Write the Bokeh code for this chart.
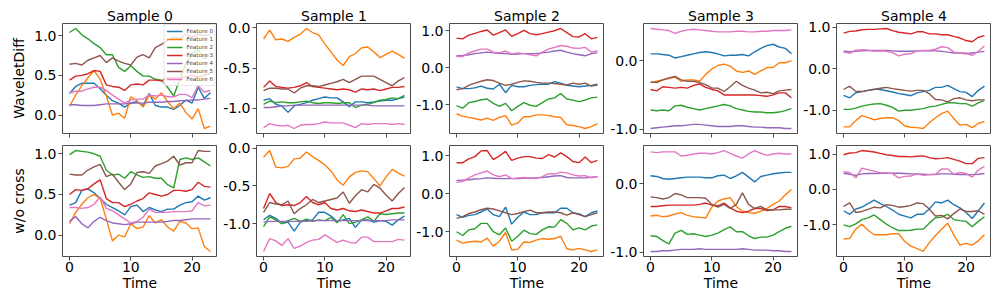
from bokeh.plotting import figure
from bokeh.layouts import row, column
from bokeh.models import Range1d, FixedTicker, PrintfTickFormatter, CustomLabelingPolicy
from bokeh.embed import file_html
from bokeh.resources import INLINE

time = list(range(24))
features = ["Feature 0", "Feature 1", "Feature 2", "Feature 3", "Feature 4", "Feature 5", "Feature 6"]
colors = ["#1f77b4", "#ff7f0e", "#2ca02c", "#d62728", "#9467bd", "#8c564b", "#e377c2"]
samples = ["Sample 0", "Sample 1", "Sample 2", "Sample 3", "Sample 4"]
row_labels = ["WaveletDiff", "w/o cross"]
x_ticks = [0, 10, 20]
y_ticks = [[0.0, 0.5, 1.0], [-1.0, -0.5, 0.0], [-1.0, 0.0, 1.0], [-1.0, 0.0], [-1.0, 0.0, 1.0]]

# WaveletDiff (row 1)
wd_s0 = [
    [0.27,0.36,0.40,0.40,0.40,0.33,0.25,0.18,0.15,0.10,0.15,0.17,0.12,0.27,0.12,0.10,0.10,0.07,0.12,0.19,0.15,0.35,0.21,0.28],
    [0.11,0.25,0.37,0.47,0.56,0.45,0.24,0.00,0.02,-0.04,0.23,0.18,0.10,0.25,0.20,0.28,0.17,0.08,0.15,0.03,-0.05,0.08,-0.17,-0.14],
    [1.04,1.09,1.01,0.96,0.90,0.85,0.76,0.76,0.60,0.55,0.62,0.55,0.49,0.49,0.45,0.44,0.35,0.24,0.45,0.65,0.78,0.82,0.70,0.78],
    [0.44,0.49,0.50,0.52,0.56,0.55,0.38,0.36,0.35,0.31,0.38,0.39,0.38,0.44,0.44,0.43,0.47,0.47,0.47,0.48,0.50,0.48,0.50,0.52],
    [0.13,0.13,0.12,0.12,0.12,0.13,0.14,0.14,0.14,0.14,0.15,0.15,0.15,0.16,0.16,0.16,0.17,0.17,0.18,0.18,0.19,0.19,0.20,0.21],
    [0.64,0.65,0.63,0.69,0.72,0.75,0.66,0.72,0.68,0.65,0.63,0.73,0.76,0.72,0.85,0.89,0.94,0.98,0.96,1.02,0.98,1.02,1.00,1.01],
    [0.28,0.30,0.30,0.33,0.35,0.35,0.31,0.25,0.20,0.15,0.19,0.20,0.20,0.25,0.24,0.25,0.23,0.23,0.26,0.26,0.22,0.37,0.29,0.31],
]
wd_s1 = [
    [-0.90,-0.88,-0.95,-0.97,-1.05,-0.97,-0.95,-0.93,-0.90,-0.88,-0.86,-0.87,-0.87,-0.92,-0.98,-0.92,-0.92,-0.93,-0.92,-0.91,-0.90,-0.90,-0.88,-0.86],
    [-0.14,-0.03,-0.15,-0.14,-0.17,-0.12,-0.08,-0.01,-0.06,-0.09,-0.20,-0.30,-0.40,-0.47,-0.36,-0.32,-0.25,-0.24,-0.30,-0.37,-0.33,-0.29,-0.33,-0.38],
    [-0.95,-0.91,-0.93,-0.92,-0.93,-0.93,-0.92,-0.91,-0.93,-0.94,-0.93,-0.93,-0.94,-0.93,-0.93,-0.99,-0.96,-0.95,-0.93,-0.90,-0.89,-0.87,-0.88,-0.84],
    [-0.74,-0.66,-0.73,-0.74,-0.75,-0.74,-0.72,-0.68,-0.73,-0.74,-0.75,-0.76,-0.77,-0.76,-0.77,-0.80,-0.76,-0.77,-0.76,-0.78,-0.76,-0.74,-0.74,-0.73],
    [-0.99,-0.99,-0.98,-0.97,-0.97,-0.96,-0.96,-0.96,-0.96,-0.96,-0.96,-0.96,-0.96,-0.96,-0.96,-0.96,-0.96,-0.96,-0.97,-0.97,-0.97,-0.97,-0.97,-0.97],
    [-0.78,-0.75,-0.75,-0.76,-0.76,-0.81,-0.75,-0.72,-0.72,-0.73,-0.71,-0.69,-0.67,-0.64,-0.68,-0.64,-0.60,-0.60,-0.60,-0.64,-0.68,-0.72,-0.66,-0.62],
    [-1.24,-1.19,-1.21,-1.22,-1.21,-1.25,-1.21,-1.20,-1.20,-1.19,-1.17,-1.18,-1.18,-1.18,-1.21,-1.24,-1.19,-1.20,-1.19,-1.19,-1.19,-1.20,-1.19,-1.20],
]
wd_s2 = [
    [-0.52,-0.57,-0.57,-0.55,-0.50,-0.56,-0.58,-0.45,-0.68,-0.48,-0.52,-0.52,-0.48,-0.46,-0.45,-0.45,-0.38,-0.42,-0.48,-0.50,-0.52,-0.50,-0.48,-0.45],
    [-1.25,-1.32,-1.35,-1.38,-1.42,-1.37,-1.43,-1.35,-1.30,-1.56,-1.50,-1.33,-1.33,-1.28,-1.28,-1.30,-1.33,-1.35,-1.55,-1.57,-1.60,-1.65,-1.60,-1.52],
    [-1.03,-1.10,-0.95,-0.92,-0.87,-0.85,-0.97,-1.05,-0.97,-1.17,-1.05,-0.95,-1.02,-1.05,-0.95,-0.85,-0.82,-0.70,-0.85,-0.88,-0.92,-0.88,-0.82,-0.80],
    [0.80,0.78,0.88,0.93,0.98,1.02,0.88,0.95,1.02,0.85,0.92,1.01,0.92,0.89,0.92,0.96,1.00,1.06,0.95,0.84,0.83,0.92,0.78,0.82],
    [0.32,0.33,0.35,0.38,0.40,0.42,0.40,0.39,0.38,0.36,0.37,0.38,0.38,0.38,0.40,0.42,0.45,0.47,0.42,0.38,0.35,0.32,0.38,0.40],
    [-0.60,-0.57,-0.48,-0.42,-0.37,-0.33,-0.35,-0.42,-0.48,-0.45,-0.40,-0.36,-0.37,-0.40,-0.42,-0.42,-0.43,-0.45,-0.47,-0.42,-0.45,-0.42,-0.50,-0.47],
    [0.30,0.30,0.40,0.45,0.50,0.50,0.42,0.40,0.45,0.37,0.40,0.38,0.35,0.32,0.42,0.50,0.55,0.60,0.58,0.53,0.52,0.55,0.42,0.45],
]
wd_s3 = [
    [0.10,0.10,0.09,0.08,0.04,0.06,0.08,0.10,0.12,0.13,0.12,0.10,0.07,0.08,0.08,0.09,0.07,0.13,0.18,0.22,0.24,0.20,0.18,0.10],
    [-0.32,-0.30,-0.28,-0.26,-0.24,-0.30,-0.28,-0.28,-0.30,-0.20,-0.12,-0.07,-0.05,-0.08,-0.15,-0.17,-0.15,-0.20,-0.15,-0.10,-0.10,-0.03,-0.03,0.00],
    [-0.72,-0.73,-0.72,-0.73,-0.66,-0.65,-0.68,-0.70,-0.72,-0.70,-0.68,-0.66,-0.64,-0.66,-0.70,-0.72,-0.74,-0.75,-0.75,-0.76,-0.76,-0.75,-0.73,-0.70],
    [-0.42,-0.44,-0.38,-0.39,-0.40,-0.39,-0.40,-0.36,-0.34,-0.39,-0.42,-0.44,-0.50,-0.50,-0.50,-0.50,-0.50,-0.50,-0.51,-0.52,-0.50,-0.47,-0.47,-0.54],
    [-0.99,-0.98,-0.97,-0.96,-0.95,-0.95,-0.94,-0.93,-0.93,-0.94,-0.95,-0.96,-0.96,-0.96,-0.95,-0.95,-0.96,-0.97,-0.97,-0.98,-0.98,-0.98,-0.99,-0.99],
    [-0.31,-0.32,-0.28,-0.25,-0.23,-0.28,-0.30,-0.30,-0.32,-0.35,-0.40,-0.40,-0.45,-0.38,-0.30,-0.36,-0.40,-0.43,-0.47,-0.46,-0.48,-0.44,-0.43,-0.42],
    [0.47,0.46,0.45,0.44,0.40,0.43,0.45,0.46,0.45,0.44,0.43,0.42,0.42,0.42,0.43,0.43,0.42,0.42,0.43,0.43,0.44,0.44,0.44,0.45],
]
wd_s4 = [
    [-0.64,-0.70,-0.58,-0.55,-0.52,-0.49,-0.50,-0.53,-0.56,-0.60,-0.62,-0.65,-0.58,-0.55,-0.52,-0.45,-0.45,-0.40,-0.48,-0.55,-0.57,-0.67,-0.52,-0.42],
    [-1.40,-1.40,-1.25,-1.13,-1.18,-1.23,-1.20,-1.18,-1.18,-1.25,-1.38,-1.41,-1.42,-1.44,-1.30,-1.18,-1.08,-1.02,-1.20,-1.36,-1.34,-1.42,-1.32,-1.27],
    [-0.98,-0.98,-0.95,-0.90,-0.87,-0.85,-0.84,-0.88,-0.93,-1.02,-1.00,-1.00,-0.98,-0.96,-0.92,-0.90,-0.86,-0.82,-0.82,-0.84,-0.84,-0.90,-0.82,-0.76],
    [0.86,0.90,0.91,0.94,0.95,0.95,0.96,0.97,0.92,0.88,0.86,0.84,0.89,0.89,0.84,0.84,0.82,0.82,0.78,0.74,0.68,0.65,0.76,0.80],
    [0.42,0.41,0.42,0.43,0.44,0.44,0.44,0.44,0.43,0.42,0.42,0.42,0.43,0.43,0.43,0.43,0.42,0.40,0.38,0.38,0.36,0.38,0.40,0.42],
    [-0.50,-0.42,-0.55,-0.55,-0.52,-0.50,-0.47,-0.45,-0.48,-0.50,-0.52,-0.54,-0.52,-0.52,-0.60,-0.74,-0.75,-0.80,-0.72,-0.70,-0.75,-0.77,-0.75,-0.75],
    [0.40,0.37,0.45,0.46,0.45,0.42,0.43,0.42,0.39,0.31,0.35,0.36,0.43,0.44,0.44,0.47,0.53,0.51,0.40,0.38,0.38,0.32,0.42,0.55],
]

# w/o cross (row 2)
wc_s0 = [
    [0.37,0.40,0.55,0.57,0.52,0.45,0.38,0.34,0.30,0.25,0.35,0.37,0.29,0.34,0.31,0.29,0.32,0.32,0.37,0.40,0.41,0.48,0.43,0.46],
    [0.14,0.28,0.38,0.46,0.50,0.45,0.20,-0.07,0.00,-0.02,0.14,0.08,0.10,0.24,0.15,0.19,0.10,0.05,0.17,0.15,0.08,0.09,-0.14,-0.20],
    [0.99,1.04,1.03,1.02,1.00,0.97,0.80,0.74,0.75,0.70,0.78,0.74,0.71,0.72,0.70,0.70,0.62,0.58,0.93,0.95,0.93,0.95,0.90,0.85],
    [0.50,0.56,0.55,0.57,0.63,0.68,0.45,0.40,0.40,0.35,0.38,0.42,0.45,0.52,0.50,0.48,0.50,0.55,0.55,0.54,0.56,0.65,0.60,0.59],
    [0.17,0.23,0.14,0.09,0.17,0.22,0.18,0.15,0.14,0.13,0.14,0.16,0.16,0.16,0.16,0.16,0.17,0.18,0.18,0.19,0.20,0.20,0.20,0.20],
    [0.75,0.74,0.74,0.80,0.84,0.87,0.72,0.75,0.65,0.56,0.63,0.77,0.78,0.76,0.85,0.88,0.91,0.97,0.86,0.89,0.89,1.04,1.03,1.03],
    [0.34,0.34,0.33,0.34,0.38,0.47,0.33,0.30,0.25,0.20,0.15,0.17,0.22,0.32,0.28,0.28,0.28,0.29,0.29,0.29,0.30,0.40,0.36,0.37],
]
wc_s1 = [
    [-0.95,-0.89,-0.93,-1.00,-0.98,-1.10,-0.98,-0.96,-0.95,-0.85,-0.85,-0.90,-0.97,-0.95,-0.93,-1.05,-0.95,-0.95,-0.98,-0.96,-0.97,-1.02,-0.95,-0.90],
    [-0.12,-0.03,-0.25,-0.26,-0.24,-0.14,-0.13,-0.05,-0.11,-0.16,-0.22,-0.30,-0.42,-0.49,-0.38,-0.32,-0.30,-0.31,-0.40,-0.50,-0.38,-0.28,-0.33,-0.37],
    [-1.04,-0.91,-0.95,-1.00,-0.96,-0.93,-0.97,-0.94,-0.97,-0.95,-0.96,-0.92,-0.99,-0.88,-1.00,-0.98,-0.95,-0.91,-0.97,-0.87,-0.88,-0.87,-0.86,-0.86],
    [-0.80,-0.60,-0.72,-0.76,-0.75,-0.76,-0.72,-0.64,-0.72,-0.75,-0.72,-0.80,-0.82,-0.80,-0.83,-0.84,-0.82,-0.84,-0.86,-0.86,-0.83,-0.80,-0.80,-0.78],
    [-0.98,-0.97,-0.97,-0.97,-0.97,-0.97,-0.97,-0.97,-0.96,-0.96,-0.96,-0.96,-0.96,-0.96,-0.96,-0.96,-0.96,-0.96,-0.96,-0.96,-0.96,-0.95,-0.95,-0.95],
    [-0.85,-0.72,-0.74,-0.75,-0.70,-0.87,-0.80,-0.75,-0.68,-0.72,-0.70,-0.68,-0.66,-0.58,-0.73,-0.63,-0.55,-0.58,-0.48,-0.53,-0.62,-0.70,-0.60,-0.52],
    [-1.37,-1.20,-1.23,-1.29,-1.20,-1.33,-1.30,-1.25,-1.22,-1.21,-1.15,-1.20,-1.25,-1.22,-1.25,-1.26,-1.18,-1.18,-1.24,-1.24,-1.24,-1.24,-1.21,-1.22],
]
wc_s2 = [
    [-0.55,-0.62,-0.57,-0.55,-0.48,-0.40,-0.55,-0.60,-0.35,-0.80,-0.62,-0.48,-0.55,-0.55,-0.50,-0.50,-0.50,-0.38,-0.38,-0.50,-0.53,-0.60,-0.50,-0.45],
    [-1.22,-1.30,-1.27,-1.25,-1.27,-1.17,-1.38,-1.25,-1.02,-1.48,-1.46,-1.27,-1.28,-1.22,-1.18,-1.20,-1.18,-1.12,-1.45,-1.48,-1.44,-1.48,-1.52,-1.48],
    [-1.00,-1.10,-0.95,-0.92,-0.78,-0.78,-1.00,-1.08,-0.90,-1.25,-1.12,-0.96,-1.05,-1.07,-0.95,-0.87,-0.88,-0.68,-0.78,-0.95,-0.90,-0.95,-0.85,-0.82],
    [0.82,0.82,0.92,0.98,1.13,1.14,0.90,1.00,1.12,0.88,0.94,0.98,0.98,0.94,0.93,1.03,0.97,1.08,0.98,0.85,0.82,0.97,0.82,0.88],
    [0.35,0.36,0.37,0.39,0.40,0.42,0.41,0.40,0.40,0.40,0.40,0.41,0.41,0.42,0.43,0.45,0.47,0.48,0.43,0.42,0.42,0.42,0.44,0.45],
    [-0.65,-0.60,-0.52,-0.48,-0.42,-0.38,-0.40,-0.45,-0.50,-0.55,-0.52,-0.47,-0.43,-0.50,-0.50,-0.48,-0.48,-0.50,-0.56,-0.50,-0.55,-0.60,-0.55,-0.50],
    [0.30,0.32,0.42,0.50,0.55,0.60,0.50,0.45,0.50,0.40,0.42,0.43,0.42,0.40,0.45,0.53,0.52,0.57,0.55,0.50,0.47,0.48,0.42,0.45],
]
wc_s3 = [
    [0.12,0.11,0.08,0.07,0.08,0.09,0.10,0.10,0.10,0.09,0.09,0.12,0.13,0.08,0.12,0.17,0.10,0.03,0.11,0.13,0.15,0.16,0.17,0.17],
    [-0.47,-0.46,-0.48,-0.47,-0.44,-0.42,-0.46,-0.48,-0.49,-0.50,-0.34,-0.25,-0.22,-0.20,-0.33,-0.40,-0.42,-0.43,-0.40,-0.36,-0.30,-0.25,-0.16,-0.08],
    [-0.76,-0.77,-0.83,-0.88,-0.72,-0.68,-0.74,-0.73,-0.75,-0.77,-0.75,-0.72,-0.67,-0.63,-0.70,-0.70,-0.76,-0.80,-0.78,-0.78,-0.75,-0.70,-0.65,-0.62],
    [-0.33,-0.33,-0.32,-0.31,-0.31,-0.31,-0.31,-0.31,-0.30,-0.28,-0.31,-0.32,-0.28,-0.35,-0.40,-0.42,-0.40,-0.36,-0.36,-0.39,-0.38,-0.33,-0.33,-0.35],
    [-0.99,-0.99,-0.98,-0.98,-0.97,-0.96,-0.96,-0.96,-0.95,-0.96,-0.96,-0.96,-0.96,-0.96,-0.96,-0.95,-0.96,-0.97,-0.97,-0.97,-0.98,-0.98,-0.99,-0.99],
    [-0.19,-0.20,-0.22,-0.20,-0.14,-0.16,-0.20,-0.20,-0.20,-0.21,-0.30,-0.34,-0.30,-0.36,-0.30,-0.13,-0.30,-0.36,-0.33,-0.38,-0.38,-0.38,-0.37,-0.37],
    [0.47,0.46,0.47,0.47,0.47,0.41,0.42,0.44,0.45,0.45,0.44,0.46,0.49,0.45,0.41,0.38,0.44,0.49,0.45,0.42,0.44,0.45,0.44,0.44],
]
wc_s4 = [
    [-0.60,-0.70,-0.55,-0.50,-0.40,-0.30,-0.40,-0.48,-0.58,-0.70,-0.75,-0.80,-0.70,-0.70,-0.55,-0.35,-0.38,-0.30,-0.43,-0.52,-0.65,-0.82,-0.60,-0.38],
    [-1.40,-1.38,-1.12,-0.98,-1.15,-1.28,-1.28,-1.28,-1.25,-1.25,-1.47,-1.60,-1.67,-1.75,-1.50,-1.30,-1.12,-0.95,-1.28,-1.57,-1.52,-1.57,-1.45,-1.28],
    [-1.00,-1.05,-0.97,-0.85,-0.80,-0.72,-0.85,-0.98,-1.08,-1.16,-1.16,-1.15,-1.12,-1.12,-0.95,-0.80,-0.78,-0.70,-0.85,-0.88,-0.90,-1.05,-0.90,-0.77],
    [0.98,1.03,1.04,1.10,1.08,1.06,1.02,0.98,0.96,0.93,0.93,0.92,0.94,0.95,0.90,0.87,0.88,0.90,0.85,0.80,0.73,0.73,0.88,0.90],
    [0.46,0.43,0.40,0.44,0.45,0.45,0.46,0.46,0.46,0.46,0.45,0.44,0.44,0.43,0.42,0.43,0.44,0.44,0.43,0.42,0.42,0.42,0.43,0.45],
    [-0.48,-0.38,-0.65,-0.62,-0.56,-0.50,-0.52,-0.43,-0.45,-0.50,-0.48,-0.45,-0.38,-0.40,-0.55,-0.75,-0.73,-0.83,-0.68,-0.55,-0.62,-0.62,-0.60,-0.70],
    [0.50,0.48,0.33,0.60,0.56,0.52,0.47,0.47,0.45,0.33,0.37,0.38,0.45,0.40,0.42,0.42,0.58,0.58,0.43,0.48,0.45,0.35,0.55,0.65],
]

panels = [[wd_s0, wd_s1, wd_s2, wd_s3, wd_s4], [wc_s0, wc_s1, wc_s2, wc_s3, wc_s4]]

FONT = "DejaVu Sans"
EDGE = "#4d4d4d"
FRAME_W = 155
LEFTS = [62, 39, 38, 39, 38]
TOPS = [23, 6]
BOTTOMS = [6, 42]
FRAME_H = [110, 111]


def make(r, c, data):
    lo = min(min(s) for s in data)
    hi = max(max(s) for s in data)
    pad = 0.05 * (hi - lo)
    p = figure(
        width=LEFTS[c] + FRAME_W,
        height=TOPS[r] + FRAME_H[r] + BOTTOMS[r],
        x_range=Range1d(-1.15, 24.15),
        y_range=Range1d(lo - pad, hi + pad),
        output_backend="svg",
        toolbar_location=None,
        title=samples[c] if r == 0 else None,
        min_border_left=LEFTS[c],
        min_border_right=0,
        min_border_top=TOPS[r],
        min_border_bottom=BOTTOMS[r],
        background_fill_color="white",
        border_fill_color="white",
    )
    if r == 0:
        p.title.align = "center"
        p.title.text_font = FONT
        p.title.text_font_size = "14px"
        p.title.text_font_style = "normal"
        p.title.text_color = "black"
        p.title.standoff = 0
        p.title.offset = 0
    p.grid.visible = False
    p.outline_line_color = EDGE
    p.outline_line_width = 1
    p.outline_line_alpha = 1

    for ax in (p.xaxis[0], p.yaxis[0]):
        ax.axis_line_color = None
        ax.major_tick_out = 4
        ax.major_tick_in = 0
        ax.minor_tick_out = 0
        ax.minor_tick_in = 0
        ax.major_tick_line_color = EDGE
        ax.major_label_text_font = FONT
        ax.major_label_text_font_size = "14px"
        ax.major_label_text_color = "black"
        ax.major_label_standoff = 2
        ax.axis_label_text_font = FONT
        ax.axis_label_text_font_size = "14px"
        ax.axis_label_text_font_style = "normal"
        ax.axis_label_text_color = "black"

    p.xaxis.ticker = FixedTicker(ticks=x_ticks)
    p.yaxis.ticker = FixedTicker(ticks=y_ticks[c])
    p.yaxis.formatter = PrintfTickFormatter(format="%.1f")
    if r == 0:
        # shared x axis: tick marks only, no labels drawn
        p.xaxis.major_label_policy = CustomLabelingPolicy(code="return []")
        p.xaxis.major_label_text_font_size = "0px"
        p.xaxis.major_label_standoff = 0
    else:
        p.xaxis.axis_label = "Time"
        p.xaxis.axis_label_standoff = 0
        p.xaxis.major_label_standoff = 1
    if c == 0:
        p.yaxis.axis_label = row_labels[r]
        p.yaxis.axis_label_standoff = 4

    for i, series in enumerate(data):
        kw = {}
        if r == 0 and c == 0:
            kw["legend_label"] = features[i]
        p.line(time, series, line_color=colors[i], line_width=1.4, **kw)

    if r == 0 and c == 0:
        lg = p.legend[0]
        lg.location = "top_right"
        lg.margin = 1
        lg.padding = 2
        lg.spacing = 0
        lg.label_text_font = FONT
        lg.label_text_font_size = "5.6px"
        lg.label_height = 8
        lg.glyph_height = 8
        lg.glyph_width = 16
        lg.label_standoff = 4
        lg.border_line_color = "#cccccc"
        lg.border_line_width = 1
        lg.background_fill_alpha = 0.8
    return p


rows = []
for r in range(2):
    rows.append(row(*[make(r, c, panels[r][c]) for c in range(5)]))
layout = column(*rows)

open("out.html", "w").write(file_html(layout, INLINE))
